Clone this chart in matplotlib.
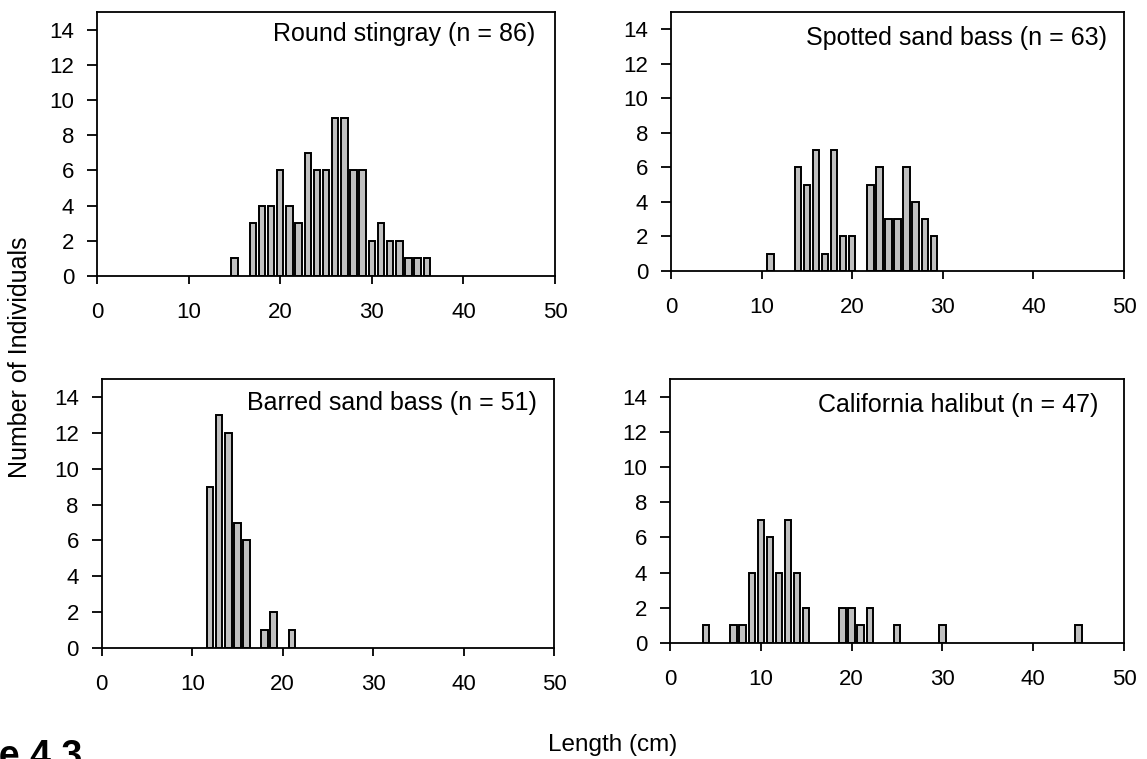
import matplotlib
matplotlib.use("Agg")
import matplotlib.pyplot as plt

plt.rcParams['font.family'] = ['Liberation Sans', 'DejaVu Sans']

# length classes (cm) and counts per species
stingray_len = [15, 17, 18, 19, 20, 21, 22, 23, 24, 25, 26, 27, 28, 29, 30, 31, 32, 33, 34, 35, 36]
stingray_n = [1, 3, 4, 4, 6, 4, 3, 7, 6, 6, 9, 9, 6, 6, 2, 3, 2, 2, 1, 1, 1]

spotted_len = [11, 14, 15, 16, 17, 18, 19, 20, 22, 23, 24, 25, 26, 27, 28, 29]
spotted_n = [1, 6, 5, 7, 1, 7, 2, 2, 5, 6, 3, 3, 6, 4, 3, 2]

barred_len = [12, 13, 14, 15, 16, 18, 19, 21]
barred_n = [9, 13, 12, 7, 6, 1, 2, 1]

halibut_len = [4, 7, 8, 9, 10, 11, 12, 13, 14, 15, 19, 20, 21, 22, 25, 30, 45]
halibut_n = [1, 1, 1, 4, 7, 6, 4, 7, 4, 2, 2, 2, 1, 2, 1, 1, 1]

titles = ["Round stingray (n = 86)", "Spotted sand bass (n = 63)",
          "Barred sand bass (n = 51)", "California halibut (n = 47)"]

panels = [
    (stingray_len, stingray_n, [0.0846, 0.6364, 0.3993, 0.3478], (0.956, 0.917)),
    (spotted_len, spotted_n, [0.585, 0.643, 0.395, 0.341], (0.962, 0.90)),
    (barred_len, barred_n, [0.0887, 0.1462, 0.3943, 0.3544], (0.962, 0.911)),
    (halibut_len, halibut_n, [0.5841, 0.1528, 0.3958, 0.3478], (0.943, 0.90)),
]

fig = plt.figure(figsize=(11.47, 7.59), dpi=100)

for (x, y, pos, tpos), title in zip(panels, titles):
    ax = fig.add_axes(pos)
    ax.bar(x, y, width=0.7, color='#c0c0c0', edgecolor='black', linewidth=1.4)
    ax.set_xlim(0, 50)
    ax.set_ylim(0, 15)
    ax.set_xticks(range(0, 51, 10))
    ax.set_yticks(range(0, 15, 2))
    for s in ax.spines.values():
        s.set_linewidth(1.3)
    ax.tick_params(direction='out', width=1.3, labelsize=16)
    ax.tick_params(axis='x', length=5.8, pad=13)
    ax.tick_params(axis='y', length=7, pad=9.5)
    ax.text(tpos[0], tpos[1], title, transform=ax.transAxes,
            ha='right', va='center', fontsize=18)

fig.text(20 / 1147, 1 - 357 / 759, "Number of Individuals", rotation=90,
         ha='center', va='center', fontsize=18)
fig.text(613 / 1147, 1 - 745 / 759, "Length (cm)", ha='center', va='center',
         fontsize=17.5)
fig.text(82 / 1147, -8 / 759, "Figure 4.3", ha='right', va='baseline',
         fontsize=27, fontweight='bold')

fig.savefig("out.png", dpi=100)
